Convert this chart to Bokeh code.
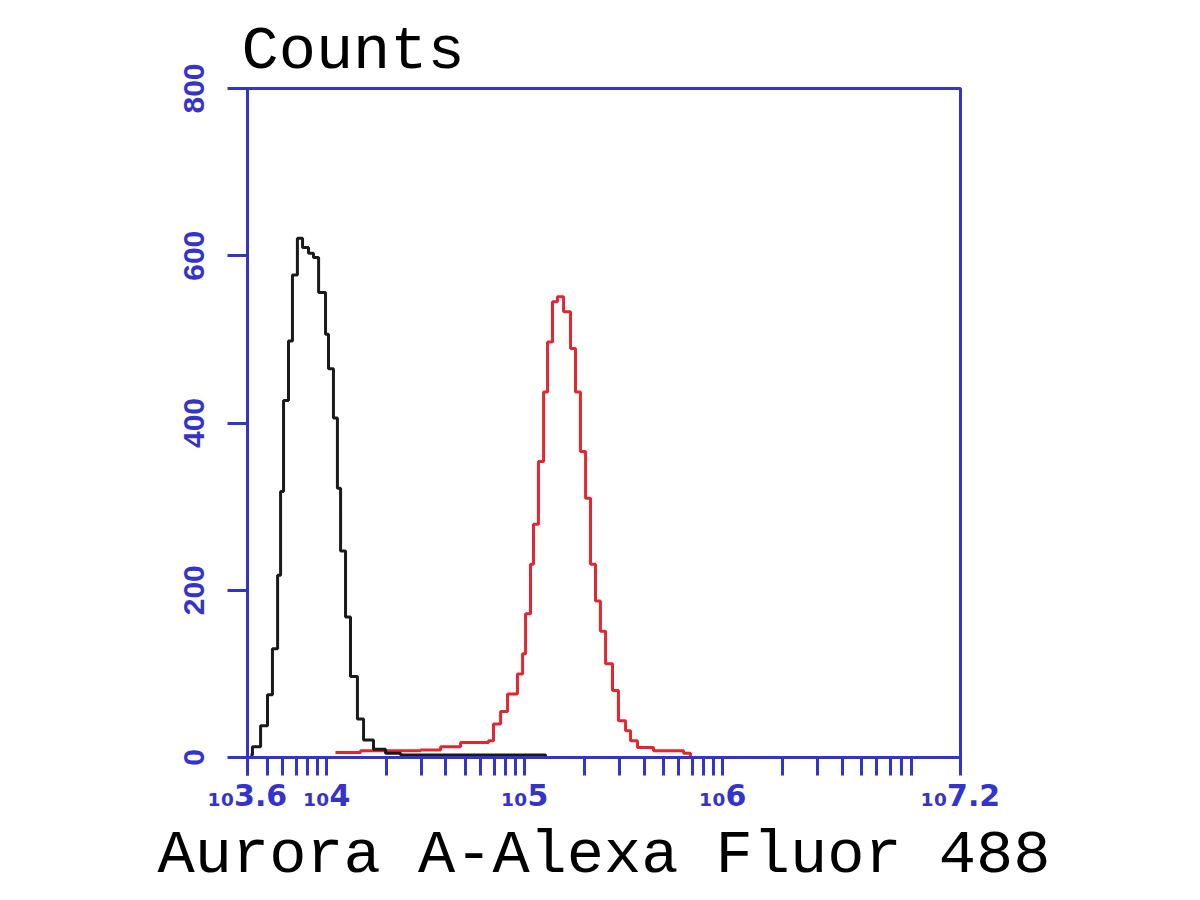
from bokeh.plotting import figure
from bokeh.models import Range1d, FixedTicker, Title
from bokeh.embed import file_html
from bokeh.resources import INLINE

# ---- data (log10 of intensity, counts) ----
black_log = [3.615, 3.625, 3.666, 3.701, 3.726, 3.752, 3.767, 3.782, 3.807, 3.827,
             3.852, 3.878, 3.908, 3.933, 3.959, 3.994, 4.009, 4.034, 4.054, 4.070,
             4.095, 4.120, 4.155, 4.186, 4.236, 4.297, 4.373, 5.105]
black_cnt = [3, 13, 38, 75, 130, 218, 318, 427, 498, 577,
             621, 610, 603, 598, 556, 506, 465, 406, 322, 247,
             168, 97, 46, 21, 10, 5, 3, 0]

red_log = [4.044, 4.171, 4.373, 4.474, 4.575, 4.676, 4.817, 4.842, 4.878, 4.913,
           4.963, 4.989, 5.004, 5.029, 5.044, 5.069, 5.095, 5.115, 5.140, 5.165,
           5.196, 5.231, 5.256, 5.281, 5.307, 5.332, 5.357, 5.382, 5.408, 5.443,
           5.473, 5.509, 5.534, 5.569, 5.650, 5.802, 5.837]
red_cnt = [6, 8, 8, 9, 13, 18, 20, 40, 55, 76,
           100, 124, 172, 231, 279, 354, 437, 497, 545, 551,
           533, 489, 437, 366, 310, 231, 187, 151, 112, 80,
           44, 32, 20, 12, 8, 5, 0]

x_tick_exps = ["3.6", "4", "5", "6", "7.2"]
y_ticks = [0, 200, 400, 600, 800]
x_title = "Aurora A-Alexa Fluor 488"
y_title = "Counts"

BLUE = "#3434cc"
FONT = "Liberation Mono"
LEFT, TOP, W, H = 247, 88, 1184, 896
FRAME_W = 713

x_ticks = [10 ** float(e) for e in x_tick_exps]
x_labels = ["\u2081\u2080" + e for e in x_tick_exps]   # subscript "10" + exponent
minor = []
for dec in range(3, 8):
    for m in range(2, 10):
        v = m * 10 ** dec
        if x_ticks[0] < v < x_ticks[-1]:
            minor.append(v)

p = figure(width=W, height=H, x_axis_type="log",
           x_range=Range1d(x_ticks[0], x_ticks[-1]), y_range=Range1d(0, 800),
           output_backend="svg", toolbar_location=None,
           min_border_left=LEFT, min_border_right=W - LEFT - FRAME_W,
           min_border_top=TOP, min_border_bottom=H - 757)
p.grid.visible = False
p.background_fill_color = "white"
p.border_fill_color = "white"
p.outline_line_color = BLUE
p.outline_line_width = 3

p.step([10 ** v for v in red_log], red_cnt, mode="after", line_color="#e3262f", line_width=3)
p.step([10 ** v for v in black_log], black_cnt, mode="after", line_color="#1a1a1a", line_width=3)

xa = p.xaxis[0]
xa.ticker = FixedTicker(ticks=x_ticks, minor_ticks=minor)
xa.major_label_overrides = {v: t for v, t in zip(x_ticks, x_labels)}
xa.axis_line_color = BLUE
xa.axis_line_width = 3
xa.major_tick_line_color = BLUE
xa.minor_tick_line_color = BLUE
xa.major_tick_line_width = 3
xa.minor_tick_line_width = 3
xa.major_tick_out = 18
xa.major_tick_in = 0
xa.minor_tick_out = 18
xa.minor_tick_in = 0
xa.major_label_standoff = 2
xa.major_label_text_color = BLUE
xa.major_label_text_font = "DejaVu Sans"
xa.major_label_text_font_style = "bold"
xa.major_label_text_font_size = "30px"

ya = p.yaxis[0]
ya.ticker = FixedTicker(ticks=y_ticks)
ya.axis_line_color = BLUE
ya.axis_line_width = 3
ya.major_tick_line_color = BLUE
ya.major_tick_line_width = 3
ya.major_tick_out = 20
ya.major_tick_in = 0
ya.minor_tick_line_color = None
ya.major_label_orientation = "vertical"
ya.major_label_text_color = BLUE
ya.major_label_text_font = "Liberation Sans Narrow, Liberation Sans"
ya.major_label_text_font_style = "bold"
ya.major_label_text_font_size = "30px"
ya.major_label_standoff = 24

p.title.text = y_title
p.title.align = "left"
p.title.offset = -6
p.title.standoff = 3
p.title.text_font = FONT
p.title.text_font_style = "normal"
p.title.text_font_size = "62px"
p.title.text_color = "black"

p.add_layout(Title(text=x_title, align="center", text_font=FONT, text_font_style="normal",
                   text_font_size="62px", text_color="black", standoff=5), "below")

open("out.html", "w").write(file_html(p, INLINE))
